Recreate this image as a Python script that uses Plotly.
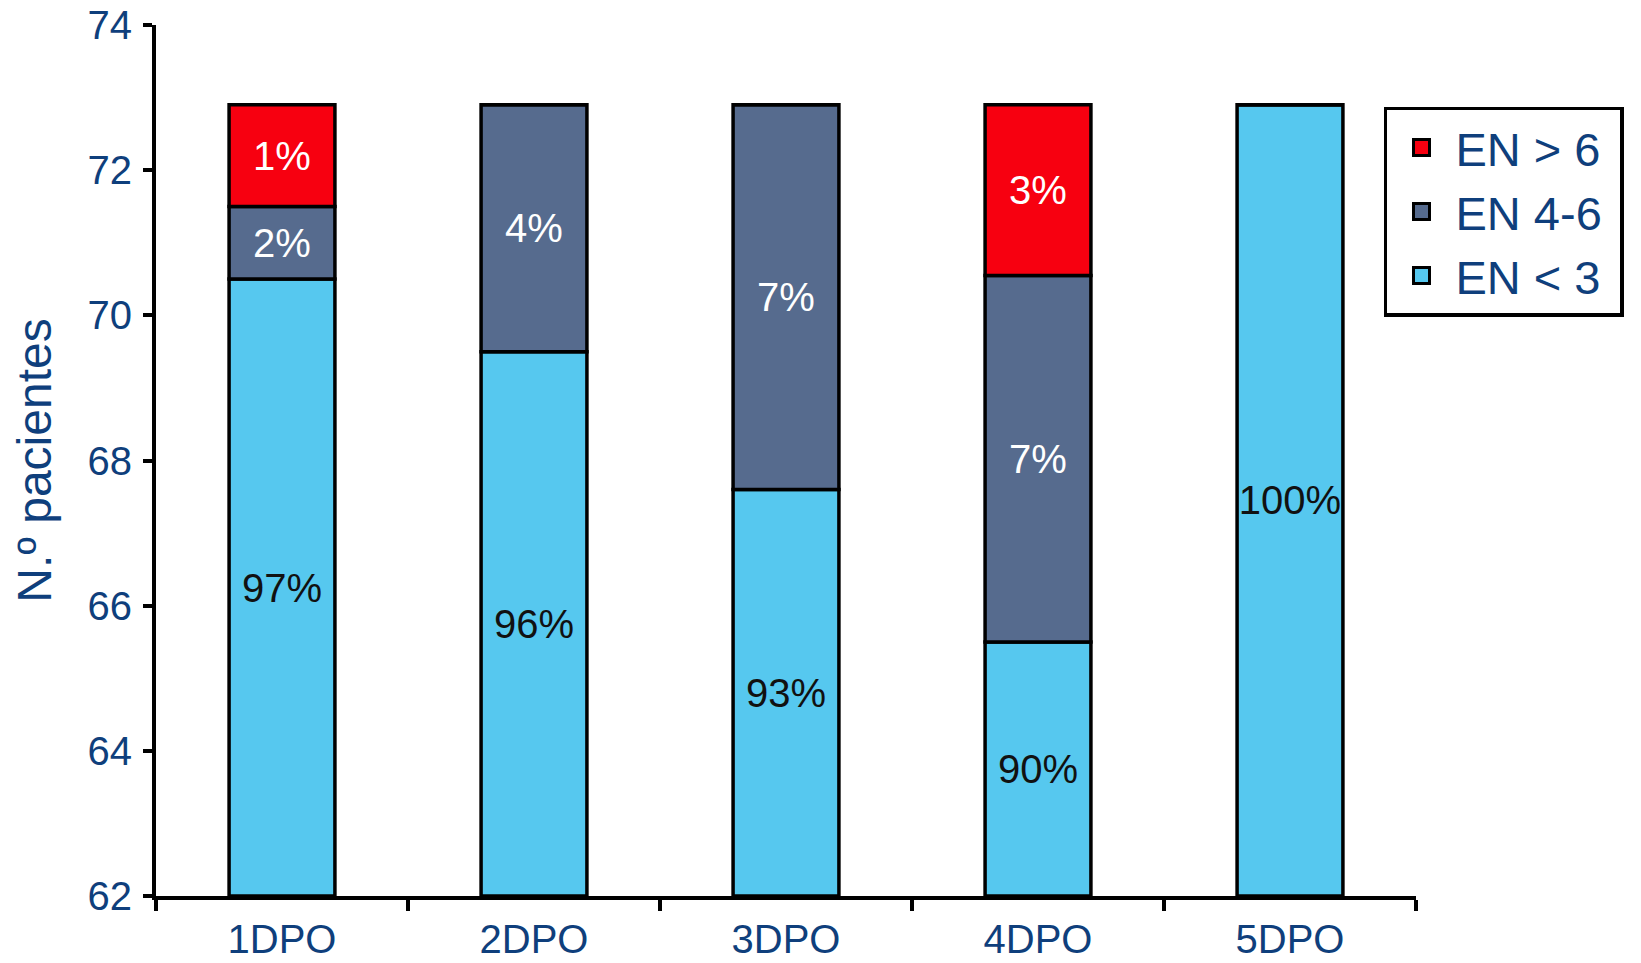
import plotly.graph_objects as go

days = ["1DPO", "2DPO", "3DPO", "4DPO", "5DPO"]
en_lt3 = [70.5, 69.5, 67.6, 65.5, 72.9]
en_4_6 = [1.0, 3.4, 5.3, 5.05, 0]
en_gt6 = [1.4, 0, 0, 2.35, 0]
lbl_lt3 = ["97%", "96%", "93%", "90%", "100%"]
lbl_4_6 = ["2%", "4%", "7%", "7%", ""]
lbl_gt6 = ["1%", "", "", "3%", ""]
series_names = ["EN < 3", "EN 4-6", "EN > 6"]
series_colors = ["#56c8ef", "#566b8e", "#f70010"]

y_min, y_max = 62, 74

txtblue = "#0f3f7c"
font = "Liberation Sans, Arial, Helvetica, sans-serif"

base_mid = list(en_lt3)
base_top = [a + b for a, b in zip(en_lt3, en_4_6)]

common = dict(
    textposition="inside", insidetextanchor="middle", constraintext="none",
    textangle=0, width=0.42, showlegend=False,
)

fig = go.Figure()
# bottom segment drawn from the visible axis floor so its label sits in view
fig.add_trace(go.Bar(
    x=days, y=[v - y_min for v in en_lt3], base=y_min, name=series_names[0], text=lbl_lt3,
    textfont=dict(size=40, color="#111111", family=font),
    marker=dict(color=series_colors[0], line=dict(color="black", width=3.5)),
    **common,
))
fig.add_trace(go.Bar(
    x=days, y=en_4_6, base=base_mid, name=series_names[1], text=lbl_4_6,
    textfont=dict(size=40, color="white", family=font),
    marker=dict(color=series_colors[1], line=dict(color="black", width=3.5)),
    **common,
))
fig.add_trace(go.Bar(
    x=days, y=en_gt6, base=base_top, name=series_names[2], text=lbl_gt6,
    textfont=dict(size=40, color="white", family=font),
    marker=dict(color=series_colors[2], line=dict(color="black", width=3.5)),
    **common,
))

# legend entries (square swatches)
for name, col in zip(series_names, series_colors):
    fig.add_trace(go.Scatter(
        x=[None], y=[None], mode="markers", name=name + "\u00a0",
        marker=dict(symbol="square", size=36, color=col, line=dict(color="black", width=3)),
        showlegend=True, hoverinfo="skip",
    ))

fig.update_layout(
    barmode="overlay",
    width=1633, height=955,
    margin=dict(l=148, r=225, t=17, b=67, autoexpand=False),
    plot_bgcolor="white", paper_bgcolor="white",
    font=dict(family=font, color=txtblue, size=40),
    showlegend=True,
    legend=dict(
        traceorder="reversed",
        x=0.9746, y=0.906, xanchor="left", yanchor="top",
        bordercolor="black", borderwidth=3.5,
        font=dict(size=47, color=txtblue, family=font),
        itemsizing="trace",
        itemwidth=58,
        tracegroupgap=0,
    ),
    xaxis=dict(
        showline=True, linecolor="black", linewidth=4,
        ticks="outside", ticklen=11, tickwidth=3.5, tickcolor="black",
        tickson="boundaries",
        tickfont=dict(size=40, color=txtblue),
        ticklabelstandoff=5,
        range=[-0.5, 4.5],
        automargin=False,
    ),
    yaxis=dict(
        range=[y_min, y_max], dtick=2, tick0=62,
        showline=True, linecolor="black", linewidth=4,
        ticks="outside", ticklen=9, tickwidth=3.5, tickcolor="black",
        showgrid=False, zeroline=False,
        tickfont=dict(size=40, color=txtblue),
        ticklabelstandoff=3,
        ticklabeloverflow="allow",
        automargin=False,
        title=dict(text="N.º pacientes", font=dict(size=48, color=txtblue), standoff=52),
    ),
)

fig.write_html("out.html")
